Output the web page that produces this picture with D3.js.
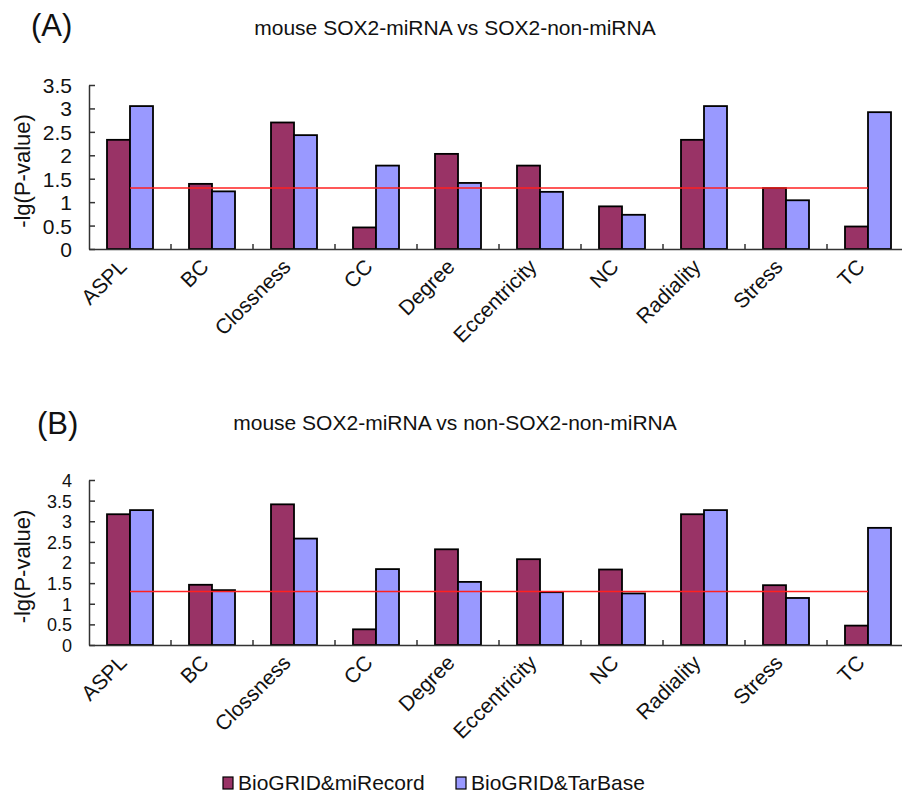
<!DOCTYPE html>
<meta charset="utf-8">
<head>
    <title>mouse SOX2-miRNA</title>
    <style>
        body { margin: 0; background: #fff; }
        svg text { font-family: Arial, "Liberation Sans", sans-serif; fill: #111; }
    </style>
</head>
<body>
<svg width="902" height="797"></svg>
<script src="https://d3js.org/d3.v7.min.js"></script>
<script>

    //categories and series
    var cats = ["ASPL", "BC", "Clossness", "CC", "Degree", "Eccentricity", "NC", "Radiality", "Stress", "TC"];
    var series = ["BioGRID&miRecord", "BioGRID&TarBase"];
    var colors = ["#993366", "#9999FF"];

    //panel A values
    var aMiRecord = [2.33, 1.39, 2.70, 0.46, 2.03, 1.78, 0.91, 2.33, 1.30, 0.48];
    var aTarBase  = [3.05, 1.23, 2.43, 1.78, 1.41, 1.22, 0.73, 3.05, 1.04, 2.92];
    var aTicks = [0, 0.5, 1, 1.5, 2, 2.5, 3, 3.5];

    //panel B values
    var bMiRecord = [3.17, 1.46, 3.41, 0.38, 2.32, 2.08, 1.83, 3.17, 1.45, 0.47];
    var bTarBase  = [3.27, 1.33, 2.58, 1.84, 1.53, 1.28, 1.25, 3.27, 1.14, 2.84];
    var bTicks = [0, 0.5, 1, 1.5, 2, 2.5, 3, 3.5, 4];

    //significance threshold -lg(0.05)
    var threshold = 1.3;

    var svg = d3.select("svg");

    var x = d3.scaleBand().domain(cats).range([89, 909]);
    var xs = d3.scaleBand().domain(series).range([18, 64]);

    function panel(opts) {
        var y = d3.scaleLinear().domain([0, opts.max]).range([opts.y0, opts.yTop]);
        var g = svg.append("g");

        //letter and title
        g.append("text")
                .attr("x", opts.letterX).attr("y", opts.letterY)
                .style("font-size", "31px")
                .text(opts.letter);
        g.append("text")
                .attr("x", 455).attr("y", opts.titleY)
                .attr("text-anchor", "middle")
                .style("font-size", "21px")
                .text(opts.title);

        //bars
        var rows = cats.map(function (c, i) {
            return [{c: c, s: series[0], v: opts.v1[i], col: colors[0]},
                    {c: c, s: series[1], v: opts.v2[i], col: colors[1]}];
        });
        g.append("g").selectAll("rect")
                .data(d3.merge(rows))
                .enter().append("rect")
                .attr("x", function (d) { return x(d.c) + xs(d.s); })
                .attr("y", function (d) { return y(d.v); })
                .attr("width", xs.bandwidth())
                .attr("height", function (d) { return y(0) - y(d.v); })
                .attr("fill", function (d) { return d.col; })
                .attr("stroke", "#000")
                .attr("stroke-width", 1.8);

        //threshold line
        g.append("line")
                .attr("x1", x(cats[0]) + x.bandwidth() / 2)
                .attr("x2", x(cats[cats.length - 1]) + x.bandwidth() / 2)
                .attr("y1", y(threshold)).attr("y2", y(threshold))
                .attr("stroke", "#ff2020")
                .attr("stroke-width", 1.5);

        //y axis
        var ya = g.append("g")
                .attr("transform", "translate(89,0)")
                .call(d3.axisLeft(y).tickValues(opts.ticks).tickSizeInner(-6).tickSizeOuter(0)
                        .tickPadding(17).tickFormat(function (d) { return String(d); }));
        ya.selectAll("text").style("font-size", opts.tickFont).attr("fill", "#111").attr("dy", "0.36em");
        ya.selectAll("path, line").attr("stroke", "#333").attr("stroke-width", 1.5);

        //x axis
        var xa = g.append("g")
                .attr("transform", "translate(0," + opts.y0 + ")")
                .call(d3.axisBottom(x).tickSize(0).tickPadding(0));
        xa.selectAll("path").attr("stroke", "#333").attr("stroke-width", 1.5);
        xa.selectAll(".tick text")
                .style("font-size", "21px")
                .attr("fill", "#111")
                .attr("text-anchor", "end")
                .attr("dy", null)
                .attr("y", null)
                .attr("transform", "translate(-2,19) rotate(-45)");
        xa.selectAll(".sep")
                .data(cats.slice(1))
                .enter().append("line")
                .attr("class", "sep")
                .attr("x1", function (d) { return x(d); })
                .attr("x2", function (d) { return x(d); })
                .attr("y1", 0).attr("y2", -5)
                .attr("stroke", "#333").attr("stroke-width", 1.5);

        //y label
        g.append("text")
                .attr("transform", "translate(30," + ((opts.y0 + opts.yTop) / 2 + 4) + ") rotate(-90)")
                .attr("text-anchor", "middle")
                .style("font-size", "22px")
                .text("-lg(P-value)");
    }

    panel({letter: "(A)", letterX: 31, letterY: 36, title: "mouse SOX2-miRNA vs SOX2-non-miRNA", titleY: 35,
        v1: aMiRecord, v2: aTarBase, max: 3.5, ticks: aTicks, tickFont: "21px", y0: 249, yTop: 85});
    panel({letter: "(B)", letterX: 37, letterY: 434, title: "mouse SOX2-miRNA vs non-SOX2-non-miRNA", titleY: 430,
        v1: bMiRecord, v2: bTarBase, max: 4, ticks: bTicks, tickFont: "18px", y0: 645, yTop: 480});

    //legend
    var legX = [223, 456];
    var leg = svg.append("g").selectAll("g")
            .data(series)
            .enter().append("g")
            .attr("transform", function (d, i) { return "translate(" + legX[i] + ",777)"; });
    leg.append("rect")
            .attr("width", 10).attr("height", 12)
            .attr("fill", function (d, i) { return colors[i]; })
            .attr("stroke", "#000").attr("stroke-width", 1.2);
    leg.append("text")
            .attr("x", 15).attr("y", 13)
            .style("font-size", "21px")
            .text(function (d) { return d; });

</script>
</body>
